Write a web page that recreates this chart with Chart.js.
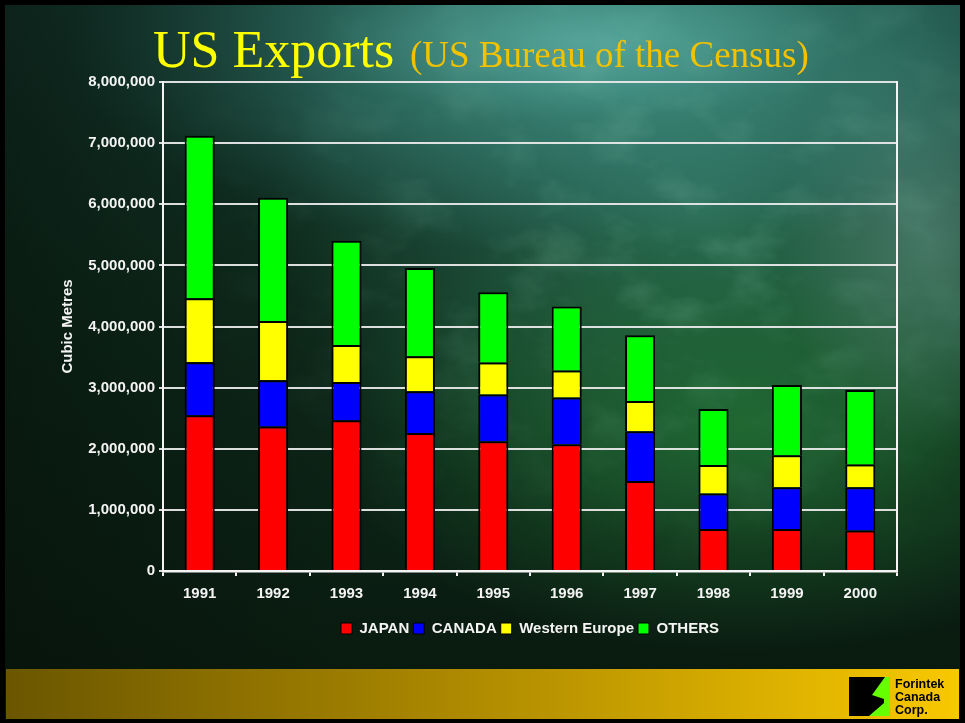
<!DOCTYPE html>
<html>
<head>
<meta charset="utf-8">
<script src="https://cdn.jsdelivr.net/npm/chart.js@4/dist/chart.umd.min.js"></script>
<style>
  html, body { margin: 0; padding: 0; background: #000; }
  #stage { position: relative; width: 965px; height: 723px; overflow: hidden; background: #000; }
  #backdrop {
    position: absolute; left: 5px; top: 5px; width: 955px; height: 714px;
    background:
      linear-gradient(to right, rgba(6,16,10,0.55) 0%, rgba(6,16,10,0) 35%),
      radial-gradient(ellipse 260px 80px at 575px 35px, rgba(110,190,180,0.45), rgba(110,190,180,0) 100%),
      radial-gradient(ellipse 540px 210px at 600px 40px, rgba(70,155,145,0.85), rgba(70,155,145,0) 100%),
      radial-gradient(ellipse 150px 210px at 925px 235px, rgba(105,155,140,0.55), rgba(105,155,140,0) 100%),
      radial-gradient(ellipse 420px 230px at 740px 420px, rgba(35,118,52,0.75), rgba(35,118,52,0) 100%),
      radial-gradient(ellipse 430px 330px at 700px 210px, rgba(50,125,100,0.75), rgba(50,125,100,0) 100%),
      linear-gradient(to bottom, #143a30 0%, #0e2a1c 40%, #09180e 100%);
  }
  #grain { position: absolute; left: 5px; top: 5px; width: 955px; height: 714px; }
  #chart { position: absolute; left: 0; top: 0; }
  #overlay { position: absolute; left: 0; top: 0; }
</style>
</head>
<body>
<div id="stage">
  <div id="backdrop"></div>
  <svg id="grain" width="955" height="714">
    <defs>
      <filter id="mottle" x="0" y="0" width="100%" height="100%" color-interpolation-filters="sRGB">
        <feTurbulence type="fractalNoise" baseFrequency="0.014 0.022" numOctaves="4" seed="11"/>
        <feColorMatrix type="matrix" values="0 0 0 0 0.55  0 0 0 0 0.8  0 0 0 0 0.7  0 0 0 2.4 -1.15"/>
      </filter>
      <radialGradient id="mistMask" cx="0.7" cy="0.3" r="0.55">
        <stop offset="0" stop-color="#fff" stop-opacity="1"/>
        <stop offset="1" stop-color="#fff" stop-opacity="0"/>
      </radialGradient>
      <mask id="mistArea"><rect width="955" height="714" fill="url(#mistMask)"/></mask>
    </defs>
    <rect width="955" height="714" filter="url(#mottle)" mask="url(#mistArea)" opacity="0.25"/>
  </svg>
  <canvas id="chart" width="965" height="723"></canvas>
  <svg id="overlay" width="965" height="723">
    <defs>
      <linearGradient id="bandFill" x1="0" y1="0" x2="1" y2="0">
        <stop offset="0" stop-color="#6b5600"/>
        <stop offset="0.5" stop-color="#b08c00"/>
        <stop offset="1" stop-color="#f8c800"/>
      </linearGradient>
    </defs>
    <text x="153" y="67" font-family="'Liberation Serif','Times New Roman',serif" font-size="52" fill="#ffff00">US Exports</text>
    <text x="410" y="67" font-family="'Liberation Serif','Times New Roman',serif" font-size="37" fill="#f2c200">(US Bureau of the Census)</text>
    <rect x="6" y="669" width="953" height="50" fill="url(#bandFill)"/>
    <rect x="849" y="677" width="41" height="39" fill="#000"/>
    <polygon points="885,677 890,677 890,716 869,716 884,703 884,699 872,695" fill="#66ff00"/>
    <text font-family="'Liberation Sans',Arial,sans-serif" font-weight="bold" font-size="12.5" fill="#000">
      <tspan x="895" y="688">Forintek</tspan>
      <tspan x="895" y="701">Canada</tspan>
      <tspan x="895" y="714">Corp.</tspan>
    </text>
  </svg>
</div>
<script>
// US softwood exports by destination, cubic metres
const years = ['1991', '1992', '1993', '1994', '1995', '1996', '1997', '1998', '1999', '2000'];
const japan = [2547000, 2363000, 2466000, 2259000, 2123000, 2074000, 1473000, 687000, 687000, 661000];
const canada = [867000, 758000, 627000, 682000, 764000, 764000, 813000, 580000, 683000, 709000];
const westernEurope = [1047000, 971000, 606000, 573000, 524000, 442000, 496000, 468000, 524000, 371000];
const others = [2659000, 2013000, 1702000, 1445000, 1150000, 1047000, 1075000, 916000, 1150000, 1221000];
const yTicks = { min: 0, max: 8000000, step: 1000000 };

const labelFont = { family: "'Liberation Sans', Arial, sans-serif", size: 15, weight: 'bold' };
const white = '#f4f4f4';

function series(label, data, color) {
  return {
    label, data,
    backgroundColor: color,
    borderColor: '#000',
    borderWidth: 2,
    barPercentage: 0.41,
    categoryPercentage: 1.0
  };
}

new Chart(document.getElementById('chart'), {
  type: 'bar',
  data: {
    labels: years,
    datasets: [
      series('JAPAN', japan, '#ff0000'),
      series('CANADA', canada, '#0000ff'),
      series('Western Europe', westernEurope, '#ffff00'),
      series('OTHERS', others, '#00ff00')
    ]
  },
  options: {
    responsive: false,
    animation: false,
    layout: { padding: { left: 55, right: 68, top: 82, bottom: 77 } },
    plugins: {
      title: { display: false },
      tooltip: { enabled: false },
      legend: {
        display: true,
        position: 'bottom',
        fullSize: false,
        labels: {
          color: white,
          font: labelFont,
          boxWidth: 11,
          boxHeight: 11,
          padding: 4,
          generateLabels(chart) {
            return Chart.defaults.plugins.legend.labels.generateLabels(chart)
              .map(item => Object.assign(item, { lineWidth: 1 }));
          }
        }
      }
    },
    scales: {
      x: {
        stacked: true,
        afterFit(scale) { scale.height = 46; },
        grid: { drawOnChartArea: false, drawTicks: true, tickLength: 5, color: white, lineWidth: 2 },
        border: { color: white, width: 2.5 },
        ticks: { color: white, font: labelFont, padding: 9 }
      },
      y: {
        stacked: true,
        min: yTicks.min,
        max: yTicks.max,
        afterFit(scale) { scale.width = 108; },
        grid: { color: 'rgba(232,232,232,0.95)', lineWidth: 2, tickLength: 4 },
        border: { color: white, width: 2 },
        ticks: {
          stepSize: yTicks.step,
          color: white,
          font: labelFont,
          padding: 4,
          callback: v => v.toLocaleString('en-US')
        },
        title: { display: true, text: 'Cubic Metres', color: white, font: labelFont, padding: 4 }
      },
      frame: {
        type: 'linear',
        position: 'right',
        min: yTicks.min,
        max: yTicks.max,
        afterFit(scale) { scale.width = 0; },
        grid: { drawOnChartArea: false, drawTicks: false },
        border: { color: white, width: 2 },
        ticks: { display: false }
      }
    }
  }
});
</script>
</body>
</html>
